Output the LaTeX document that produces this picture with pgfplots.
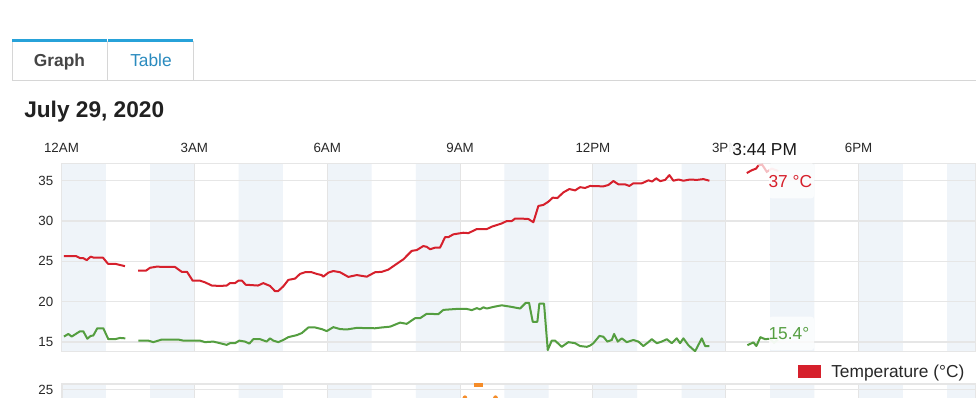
\documentclass[border=0pt]{standalone}
\usepackage{pgfplots}
\pgfplotsset{compat=1.18}
\usepackage{fontspec}
\setmainfont{Liberation Sans}
\definecolor{tred}{RGB}{214,32,44}
\definecolor{tredfade}{RGB}{245,190,194}
\definecolor{tgreen}{RGB}{84,158,64}
\definecolor{tgreenfade}{RGB}{200,228,196}
\definecolor{band}{RGB}{239,244,249}
\definecolor{gridc}{RGB}{230,230,230}
\definecolor{vgrid}{RGB}{228,228,228}
\definecolor{tabblue}{RGB}{39,162,217}
\definecolor{tabtext}{RGB}{42,139,191}
\definecolor{tabborder}{RGB}{214,214,214}
\definecolor{txt}{RGB}{40,40,40}
\definecolor{lorange}{RGB}{245,140,40}

\pgfplotstableread{
x y
0.056 25.66
0.327 25.66
0.418 25.40
0.492 25.40
0.569 25.15
0.659 25.58
0.734 25.45
0.937 25.45
1.050 24.70
1.208 24.70
1.321 24.55
1.434 24.40
}\redA

\pgfplotstableread{
x y
1.728 23.85
1.908 23.85
1.999 24.20
2.157 24.35
2.292 24.30
2.564 24.30
2.715 23.70
2.834 23.70
2.963 22.60
3.128 22.60
3.241 22.40
3.392 22.00
3.580 21.95
3.731 22.00
3.805 22.30
3.918 22.30
3.993 22.60
4.076 22.60
4.160 22.10
4.438 22.00
4.557 22.30
4.709 21.95
4.822 21.30
4.889 21.30
5.009 21.90
5.122 22.70
5.273 22.86
5.386 23.44
5.499 23.65
5.650 23.65
5.763 23.44
5.876 23.30
5.912 23.10
6.025 23.60
6.138 23.80
6.290 23.65
6.477 23.07
6.667 23.30
6.893 23.10
7.080 23.65
7.231 23.70
7.380 23.97
7.532 24.55
7.719 25.25
7.909 26.30
8.022 26.40
8.171 26.90
8.248 26.80
8.322 26.50
8.435 26.70
8.548 26.70
8.661 28.00
8.735 28.00
8.848 28.35
9.074 28.55
9.187 28.50
9.377 29.00
9.603 29.00
9.715 29.30
9.941 29.70
10.054 30.00
10.167 30.00
10.242 30.30
10.393 30.30
10.542 30.25
10.655 29.85
10.768 31.87
10.881 32.00
10.994 32.40
11.093 32.90
11.197 32.85
11.332 33.55
11.468 33.97
11.597 33.80
11.710 34.20
11.822 34.10
11.935 34.35
12.236 34.30
12.349 34.47
12.462 34.96
12.574 34.55
12.726 34.55
12.823 34.35
12.913 34.68
13.103 34.68
13.177 34.85
13.252 35.05
13.338 34.90
13.428 35.30
13.518 34.95
13.631 35.10
13.726 35.70
13.817 35.00
13.930 35.15
14.043 35.00
14.194 35.15
14.345 35.10
14.494 35.20
14.630 35.00
}\redB

\pgfplotstableread{
x y
15.474 35.95
15.587 36.30
15.684 36.50
15.736 36.90
}\redC

\pgfplotstableread{
x y
15.736 36.90
15.820 37.00
15.926 36.10
16.039 36.50
16.188 36.20
}\redD

\pgfplotstableread{
x y
0.056 15.67
0.154 16.00
0.230 15.67
0.418 16.33
0.492 16.33
0.583 15.40
0.659 15.75
0.718 15.80
0.808 16.70
0.944 16.70
1.057 15.35
1.208 15.35
1.321 15.50
1.441 15.45
}\greenA

\pgfplotstableread{
x y
1.734 15.17
1.960 15.17
2.073 14.98
2.263 15.30
2.638 15.30
2.751 15.17
3.128 15.17
3.241 14.98
3.428 15.05
3.580 14.85
3.731 14.64
3.805 14.85
3.918 14.85
4.015 15.17
4.144 15.05
4.241 14.80
4.332 15.35
4.483 15.35
4.634 15.05
4.709 15.45
4.783 15.17
4.896 14.98
5.009 15.25
5.122 15.60
5.312 15.85
5.425 16.10
5.574 16.80
5.725 16.80
5.876 16.60
5.989 16.35
6.138 16.84
6.290 16.60
6.441 16.55
6.667 16.75
7.080 16.70
7.231 16.80
7.419 16.90
7.645 17.40
7.796 17.25
7.983 17.95
8.096 17.95
8.248 18.50
8.509 18.45
8.622 18.98
8.925 19.10
9.151 19.10
9.264 18.95
9.377 19.20
9.451 19.05
9.526 19.30
9.603 19.15
9.752 19.35
9.941 19.55
10.167 19.35
10.355 19.15
10.483 19.85
10.558 19.85
10.641 17.50
10.745 17.50
10.790 19.75
10.896 19.75
10.980 14.00
11.070 15.17
11.145 15.17
11.296 14.40
11.445 14.98
11.597 14.85
11.710 14.50
11.861 14.40
11.935 14.55
12.010 14.85
12.146 15.75
12.236 15.65
12.326 15.05
12.426 15.25
12.478 16.00
12.561 15.05
12.651 15.45
12.764 14.98
12.913 15.25
13.026 15.05
13.139 14.50
13.252 14.98
13.329 15.35
13.442 14.85
13.555 15.05
13.667 15.35
13.780 14.85
13.893 15.45
13.968 14.85
14.043 15.45
14.155 14.60
14.307 13.85
14.458 15.45
14.533 14.50
14.630 14.50
}\greenB

\pgfplotstableread{
x y
15.488 14.60
15.623 14.95
15.691 14.50
15.781 15.60
15.887 15.35
15.999 15.40
}\greenC

\pgfplotstableread{
x y
15.999 15.40
16.090 14.90
16.181 15.30
}\greenD

\pgfplotstableread{
x y
0 13
0 38
1 38
1 13
2 13
2 38
3 38
3 13
4 13
4 38
5 38
5 13
6 13
6 38
7 38
7 13
8 13
8 38
9 38
9 13
10 13
10 38
11 38
11 13
12 13
12 38
13 38
13 13
14 13
14 38
15 38
15 13
16 13
16 38
17 38
17 13
18 13
18 38
19 38
19 13
20 13
20 38
20.65 38
20.65 13
}\bands

\pgfplotsset{
  hourbase/.style={
    anchor=south west, width=685.875pt, scale only axis,
    xmin=0, xmax=20.65,
  },
}

\begin{document}
\begin{tikzpicture}[x=0.75pt,y=0.75pt]
\fill[white] (0,0) rectangle (976,397);

% tabs
\draw[tabborder, line width=0.75pt] (12,316) -- (976,316);
\draw[tabborder, line width=0.75pt] (12,316) -- (12,356);
\draw[tabborder, line width=0.75pt] (107,316) -- (107,356);
\draw[tabborder, line width=0.75pt] (193,316) -- (193,356);
\fill[tabblue] (12,355) rectangle (106.5,358.3);
\fill[tabblue] (107.5,355) rectangle (193,358.3);
\node[anchor=base, inner sep=0pt, font=\bfseries\fontsize{13}{15}\selectfont, text=black!73] at (59.5,330.3) {Graph};
\node[anchor=base, inner sep=0pt, font=\fontsize{13}{15}\selectfont, text=tabtext] at (151,330.3) {Table};

% title
\node[anchor=base west, inner sep=0pt, font=\bfseries\fontsize{17}{20}\selectfont, text=black!87] at (24,279.7) {July 29, 2020};

% bands behind upper chart
\begin{axis}[hourbase, at={(46.125pt,34.125pt)}, height=141.15pt,
  ymin=13.82, ymax=37.16, hide axis]
\addplot[draw=none, fill=band] table {\bands} -- cycle;
\end{axis}

\begin{axis}[hourbase,
  at={(46.125pt,34.125pt)}, height=141.15pt,
  ymin=13.82, ymax=37.16,
  xtick={0,3,6,9,12,15,18},
  xticklabels={12AM,3AM,6AM,9AM,12PM,3PM,6PM},
  xticklabel pos=upper,
  ytick={15,20,25,30,35},
  major tick length=0pt,
  xmajorgrids, ymajorgrids,
  x grid style={vgrid, line width=0.8pt},
  y grid style={gridc, line width=0.9pt},
  axis line style={gridc, line width=1.2pt},
  tick label style={font=\fontsize{10}{12}\selectfont, text=txt},
  xticklabel style={anchor=base, yshift=8.25pt},
  yticklabel style={anchor=east, inner sep=0pt, xshift=-6pt},
  /pgf/number format/assume math mode=true,
]
\addplot[tredfade, line width=1.5pt] table {\redD};
\addplot[tgreenfade, line width=1.5pt] table {\greenD};
\addplot[tred, line width=1.5pt, line join=round] table {\redA};
\addplot[tred, line width=1.5pt, line join=round] table {\redB};
\addplot[tred, line width=1.5pt, line join=round] table {\redC};
\addplot[tgreen, line width=1.5pt, line join=round] table {\greenA};
\addplot[tgreen, line width=1.5pt, line join=round] table {\greenB};
\addplot[tgreen, line width=1.5pt, line join=round] table {\greenC};
\end{axis}

% lower chart (partly visible)
\begin{axis}[hourbase, at={(46.125pt,-47.25pt)}, height=57pt,
  ymin=15, ymax=25.8, hide axis]
\addplot[draw=none, fill=band] table {\bands} -- cycle;
\end{axis}

\begin{axis}[hourbase,
  at={(46.125pt,-47.25pt)}, height=57pt,
  ymin=15, ymax=25.8,
  xtick={0,3,6,9,12,15,18}, xticklabels={},
  ytick={25},
  major tick length=0pt,
  xmajorgrids, ymajorgrids,
  x grid style={vgrid, line width=0.8pt},
  y grid style={gridc, line width=0.9pt},
  axis line style={gridc, line width=1.5pt},
  tick label style={font=\fontsize{10}{12}\selectfont, text=txt},
  yticklabel style={anchor=east, inner sep=0pt, xshift=-6pt},
  /pgf/number format/assume math mode=true,
]
\addplot[only marks, mark=square*, mark size=1.3pt, lorange] coordinates {(9.37,25.7) (9.46,25.7)};
\addplot[only marks, mark=*, mark size=1.5pt, lorange] coordinates {(9.11,23.85) (9.80,23.85)};
\end{axis}

% tooltip and value labels
\fill[white, opacity=0.92] (728,234) rectangle (801,260);
\node[anchor=base, inner sep=0pt, font=\fontsize{13}{15}\selectfont, text=black!90] at (764.7,241.3) {3:44 PM};
\fill[white, opacity=0.75, rounded corners=2pt] (769,198.7) rectangle (814,233.7);
\node[anchor=base west, inner sep=0pt, font=\fontsize{13}{15}\selectfont, text=tred] at (768.3,209.3) {37 °C};
\fill[white, opacity=0.75, rounded corners=2pt] (769,47) rectangle (814,80.3);
\node[anchor=base west, inner sep=0pt, font=\fontsize{13}{15}\selectfont, text=tgreen] at (768.3,57.7) {15.4°};

% legend
\fill[tred] (798,19.3) rectangle (821,32);
\node[anchor=base west, inner sep=0pt, font=\fontsize{13}{15}\selectfont, text=txt] at (831,19.7) {Temperature (°C)};

\pgfresetboundingbox
\path[use as bounding box] (0,0) rectangle (976,397);
\end{tikzpicture}
\end{document}
